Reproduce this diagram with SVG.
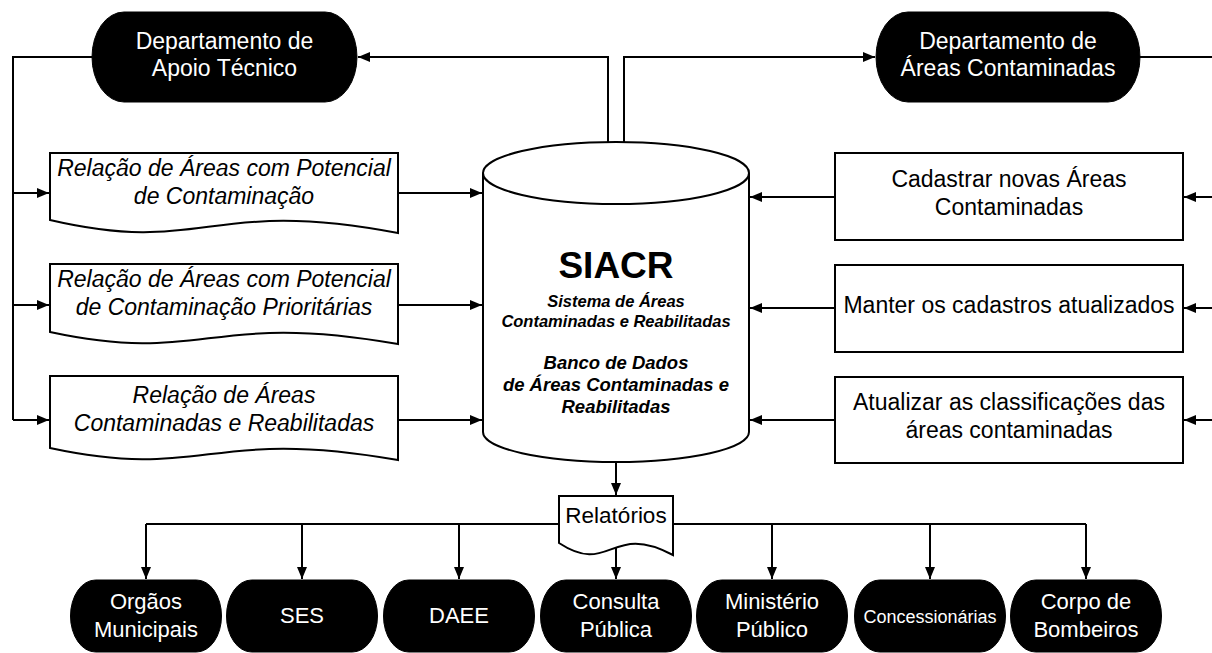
<svg xmlns="http://www.w3.org/2000/svg" width="1212" height="653" viewBox="0 0 1212 653">
  <style>
    .ln { fill: none; stroke: #000; stroke-width: 2; }
    .box { fill: #fff; stroke: #000; stroke-width: 2; }
    .term { fill: #000; stroke: #000; stroke-width: 1; }
    .t { font-family: "Liberation Sans", Arial, sans-serif; text-anchor: middle; fill: #000; }
    .w { fill: #fff; }
    .lg { font-size: 23px; }
    .it { font-style: italic; }
    .bi { font-weight: bold; font-style: italic; }
  </style>
  <defs>
    <marker id="arrow" markerUnits="userSpaceOnUse" markerWidth="13" markerHeight="11" refX="12" refY="5" orient="auto">
      <path d="M0,0 L12,5 L0,10 Z" fill="#000"/>
    </marker>
  </defs>

  <!-- connectors -->
  <g id="connectors">
    <!-- database to Apoio Técnico, then fan-out to the three lists -->
    <path class="ln" d="M608,143 V57 H358" marker-end="url(#arrow)"/>
    <path class="ln" d="M92,57 H13 V420"/>
    <path class="ln" d="M13,193 H49" marker-end="url(#arrow)"/>
    <path class="ln" d="M13,305 H49" marker-end="url(#arrow)"/>
    <path class="ln" d="M13,420 H49" marker-end="url(#arrow)"/>
    <!-- lists into database -->
    <path class="ln" d="M398,193 H482" marker-end="url(#arrow)"/>
    <path class="ln" d="M398,305 H482" marker-end="url(#arrow)"/>
    <path class="ln" d="M398,420 H482" marker-end="url(#arrow)"/>
    <!-- database to Áreas Contaminadas, then back through the three tasks -->
    <path class="ln" d="M624,143 V57 H875" marker-end="url(#arrow)"/>
    <path class="ln" d="M1140,57 H1214 V420"/>
    <path class="ln" d="M1214,197 H1184" marker-end="url(#arrow)"/>
    <path class="ln" d="M1214,308 H1184" marker-end="url(#arrow)"/>
    <path class="ln" d="M1214,420 H1184" marker-end="url(#arrow)"/>
    <!-- tasks into database -->
    <path class="ln" d="M835,197 H750" marker-end="url(#arrow)"/>
    <path class="ln" d="M835,308 H750" marker-end="url(#arrow)"/>
    <path class="ln" d="M835,420 H750" marker-end="url(#arrow)"/>
    <!-- database to reports -->
    <path class="ln" d="M616,462 V495" marker-end="url(#arrow)"/>
    <!-- reports distribution -->
    <path class="ln" d="M146,524 H1086"/>
    <path class="ln" d="M146,524 V579" marker-end="url(#arrow)"/>
    <path class="ln" d="M302,524 V579" marker-end="url(#arrow)"/>
    <path class="ln" d="M459,524 V579" marker-end="url(#arrow)"/>
    <path class="ln" d="M616,548 V579" marker-end="url(#arrow)"/>
    <path class="ln" d="M772,524 V579" marker-end="url(#arrow)"/>
    <path class="ln" d="M930,524 V579" marker-end="url(#arrow)"/>
    <path class="ln" d="M1086,524 V579" marker-end="url(#arrow)"/>
  </g>

  <!-- departments -->
  <g id="dep-apoio">
    <rect class="term" x="92" y="12" width="265" height="90" rx="32" ry="45"/>
    <text class="t w lg" x="224.5" y="49">Departamento de</text>
    <text class="t w lg" x="224.5" y="76">Apoio Técnico</text>
  </g>
  <g id="dep-areas">
    <rect class="term" x="876" y="12" width="264" height="90" rx="32" ry="45"/>
    <text class="t w lg" x="1008" y="49">Departamento de</text>
    <text class="t w lg" x="1008" y="76">Áreas Contaminadas</text>
  </g>

  <!-- lists (document shapes) -->
  <g id="doc-potencial">
    <path class="box" d="M50,153 H398 V233 C206.6,196.6 206.6,256.4 50,220 Z"/>
    <text class="t lg it" x="224" y="176">Relação de Áreas com Potencial</text>
    <text class="t lg it" x="224" y="204">de Contaminação</text>
  </g>
  <g id="doc-prioritarias">
    <path class="box" d="M50,264 H398 V344 C206.6,310.4 206.6,365.6 50,332 Z"/>
    <text class="t lg it" x="224" y="287">Relação de Áreas com Potencial</text>
    <text class="t lg it" x="224" y="315">de Contaminação Prioritárias</text>
  </g>
  <g id="doc-contaminadas">
    <path class="box" d="M50,376 H398 V460 C206.6,426.4 206.6,481.6 50,448 Z"/>
    <text class="t lg it" x="224" y="403">Relação de Áreas</text>
    <text class="t lg it" x="224" y="431">Contaminadas e Reabilitadas</text>
  </g>

  <!-- database -->
  <g id="siacr">
    <path class="box" d="M483,173 V432 A133,30 0 0 0 749,432 V173"/>
    <ellipse class="box" cx="616" cy="173" rx="133" ry="31"/>
    <text class="t" x="616" y="278" font-size="37" font-weight="bold">SIACR</text>
    <text class="t bi" x="616" y="307" font-size="16.5">Sistema de Áreas</text>
    <text class="t bi" x="616" y="327" font-size="16.5">Contaminadas e Reabilitadas</text>
    <text class="t bi" x="616" y="369" font-size="18.5">Banco de Dados</text>
    <text class="t bi" x="616" y="391" font-size="18.5">de Áreas Contaminadas e</text>
    <text class="t bi" x="616" y="413" font-size="18.5">Reabilitadas</text>
  </g>

  <!-- tasks -->
  <g id="task-cadastrar">
    <rect class="box" x="835" y="153" width="348" height="87"/>
    <text class="t lg" x="1009" y="187">Cadastrar novas Áreas</text>
    <text class="t lg" x="1009" y="215">Contaminadas</text>
  </g>
  <g id="task-manter">
    <rect class="box" x="835" y="265" width="348" height="87"/>
    <text class="t lg" x="1009" y="313">Manter os cadastros atualizados</text>
  </g>
  <g id="task-atualizar">
    <rect class="box" x="835" y="377" width="348" height="86"/>
    <text class="t lg" x="1009" y="410">Atualizar as classificações das</text>
    <text class="t lg" x="1009" y="438">áreas contaminadas</text>
  </g>

  <!-- reports -->
  <g id="relatorios">
    <path class="box" d="M559,496 H673 V555 C610.3,521.4 610.3,576.6 559,543 Z"/>
    <text class="t" x="616" y="523" font-size="22.5">Relatórios</text>
  </g>

  <!-- recipients -->
  <g id="orgaos">
    <rect class="term" x="70.5" y="580" width="151" height="72" rx="25" ry="36"/>
    <text class="t w" x="146" y="609" font-size="22">Orgãos</text>
    <text class="t w" x="146" y="637" font-size="22">Municipais</text>
  </g>
  <g id="ses">
    <rect class="term" x="226.5" y="580" width="151" height="72" rx="25" ry="36"/>
    <text class="t w" x="302" y="623" font-size="22">SES</text>
  </g>
  <g id="daee">
    <rect class="term" x="383.5" y="580" width="151" height="72" rx="25" ry="36"/>
    <text class="t w" x="459" y="623" font-size="22">DAEE</text>
  </g>
  <g id="consulta">
    <rect class="term" x="540.5" y="580" width="151" height="72" rx="25" ry="36"/>
    <text class="t w" x="616" y="609" font-size="22">Consulta</text>
    <text class="t w" x="616" y="637" font-size="22">Pública</text>
  </g>
  <g id="ministerio">
    <rect class="term" x="696.5" y="580" width="151" height="72" rx="25" ry="36"/>
    <text class="t w" x="772" y="609" font-size="22">Ministério</text>
    <text class="t w" x="772" y="637" font-size="22">Público</text>
  </g>
  <g id="concessionarias">
    <rect class="term" x="854.5" y="580" width="151" height="72" rx="25" ry="36"/>
    <text class="t w" x="930" y="623" font-size="18">Concessionárias</text>
  </g>
  <g id="bombeiros">
    <rect class="term" x="1010.5" y="580" width="151" height="72" rx="25" ry="36"/>
    <text class="t w" x="1086" y="609" font-size="22">Corpo de</text>
    <text class="t w" x="1086" y="637" font-size="22">Bombeiros</text>
  </g>
</svg>
